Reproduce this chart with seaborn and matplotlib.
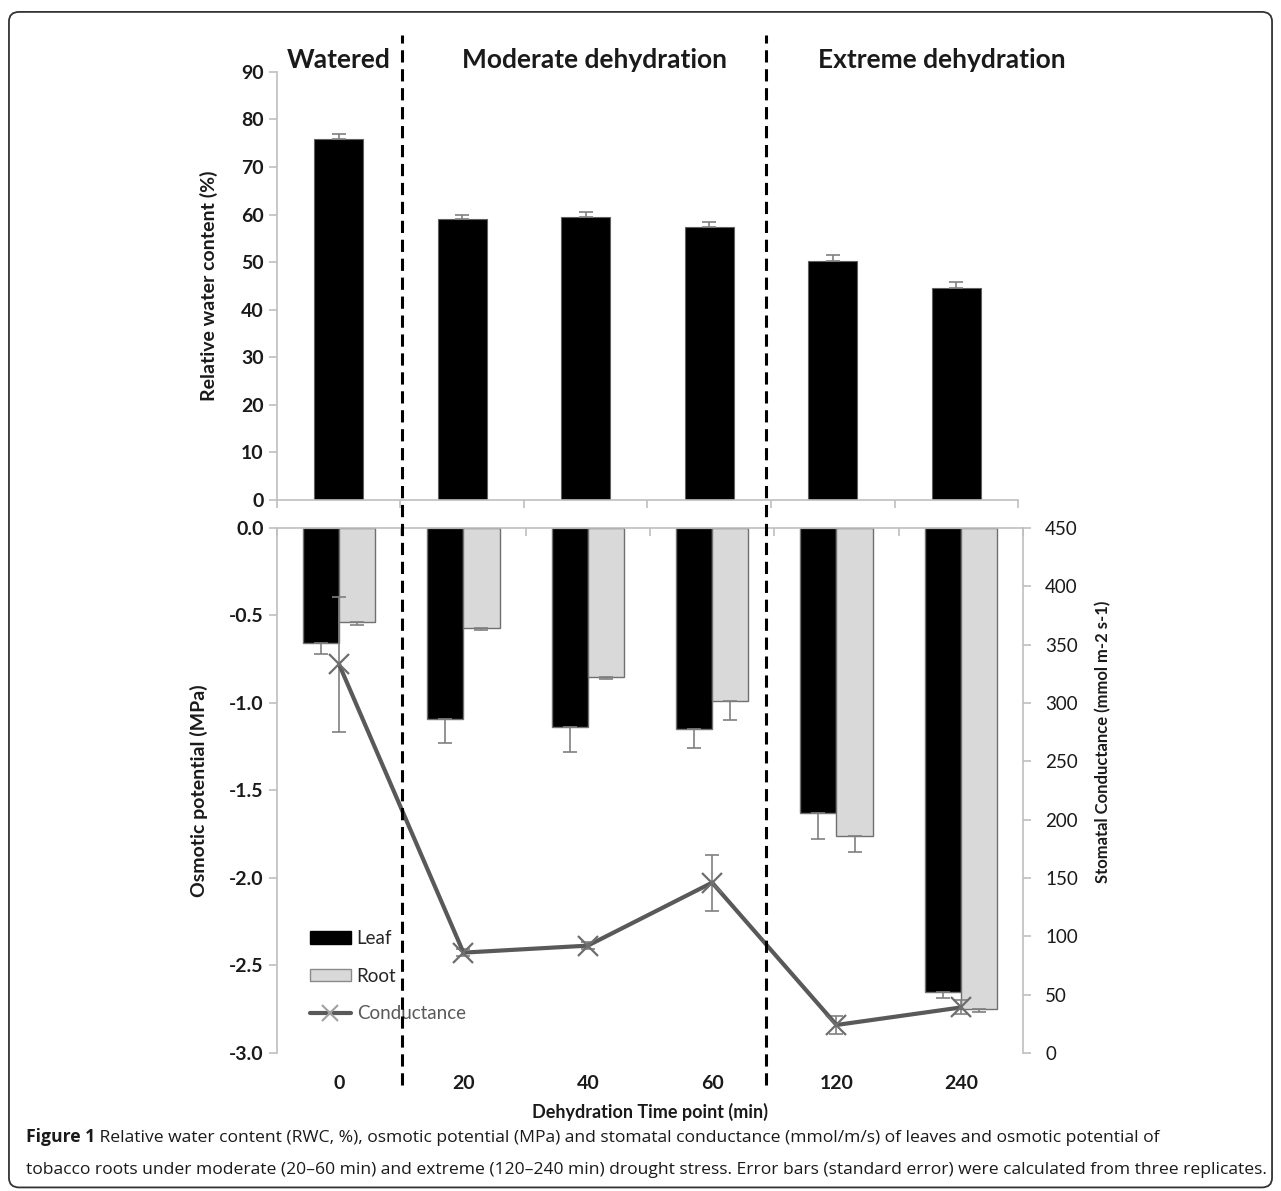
import numpy as np
import pandas as pd
import seaborn as sns
import matplotlib.pyplot as plt
import matplotlib.transforms as mtransforms
from matplotlib.patches import Patch, FancyBboxPatch
from matplotlib.lines import Line2D

# values
times = ["0", "20", "40", "60", "120", "240"]
rwc = [76.0, 59.0, 59.5, 57.4, 50.2, 44.5]
rwc_err = [0.9, 1.0, 1.1, 1.0, 1.4, 1.3]
leaf_op = [-0.66, -1.09, -1.14, -1.15, -1.63, -2.65]
leaf_op_err = [0.06, 0.14, 0.14, 0.11, 0.15, 0.035]
root_op = [-0.54, -0.57, -0.85, -0.99, -1.76, -2.75]
root_op_err = [0.015, 0.012, 0.015, 0.11, 0.09, 0.015]
conductance = [333, 86, 92, 146, 24, 39]
conductance_err = [58, 3, 3, 24, 8, 6]
phases = ["Watered", "Moderate dehydration", "Extreme dehydration"]

sns.set_theme(style="white")
plt.rcParams["font.family"] = ["Lato", "DejaVu Sans"]
plt.rcParams["axes.unicode_minus"] = False

GRID = "#bfbfbf"
TXT = "#1a1a1a"
ROOT = "#d9d9d9"
LINE = "#595959"

fig = plt.figure(figsize=(12.81, 11.91), dpi=100)
ax1 = fig.add_axes([0.2162, 0.5802, 0.5785, 0.3594])
ax2 = fig.add_axes([0.2162, 0.1159, 0.5824, 0.4408])

pos = np.arange(len(times))

# top panel: relative water content
df_rwc = pd.DataFrame({"time": times, "rwc": rwc})
sns.barplot(data=df_rwc, x="time", y="rwc", color="black", width=0.4,
            saturation=1, errorbar=None, edgecolor="#606060", linewidth=0.8, ax=ax1)
ax1.errorbar(pos, rwc, yerr=[np.zeros(6), rwc_err], fmt="none", ecolor="#808080",
             elinewidth=1.2, capsize=5, capthick=1.2, zorder=5)
ax1.set_xlim(-0.5, 5.5)
ax1.set_ylim(0, 90)
ax1.set_yticks(np.arange(0, 91, 10))
ax1.set_xticks(np.arange(-0.5, 6, 1))
ax1.set_xticklabels([""] * 7)
ax1.set_xlabel("")
ax1.set_ylabel("Relative water content (%)", fontsize=14, fontweight="bold", color=TXT)
ax1.yaxis.set_label_coords(-0.08, 0.5)
for s in ["top", "right"]:
    ax1.spines[s].set_visible(False)
for s in ["left", "bottom"]:
    ax1.spines[s].set_color(GRID)
    ax1.spines[s].set_linewidth(1.2)
ax1.tick_params(axis="both", direction="out", length=6, color=GRID, width=1.2,
                labelsize=14, labelcolor=TXT, left=True, bottom=True)
for lbl in ax1.get_yticklabels():
    lbl.set_fontweight("bold")

# phase titles
for x, name in zip([0, 2.07, 4.88], phases):
    ax1.text(x, 92.6, name, ha="center", va="center", fontsize=19,
             fontweight="bold", color=TXT, clip_on=False)

# bottom panel: osmotic potential (leaf / root)
df_op = pd.DataFrame({
    "time": times * 2,
    "op": leaf_op + root_op,
    "tissue": ["Leaf"] * 6 + ["Root"] * 6,
})
sns.barplot(data=df_op, x="time", y="op", hue="tissue", hue_order=["Leaf", "Root"],
            palette={"Leaf": "black", "Root": ROOT}, width=0.58, saturation=1,
            errorbar=None, edgecolor="#707070", linewidth=1.0, legend=False, ax=ax2)
ax2.errorbar(pos - 0.145, leaf_op, yerr=[leaf_op_err, np.zeros(6)], fmt="none",
             ecolor="#808080", elinewidth=1.2, capsize=5, capthick=1.2, zorder=5)
ax2.errorbar(pos + 0.145, root_op, yerr=[root_op_err, np.zeros(6)], fmt="none",
             ecolor="#808080", elinewidth=1.2, capsize=5, capthick=1.2, zorder=5)
ax2.set_xlim(-0.5, 5.5)
ax2.set_ylim(-3, 0)
ax2.set_yticks(np.arange(-3, 0.01, 0.5))
ax2.set_yticklabels([f"{v:.1f}" for v in np.arange(-3, 0.01, 0.5)])
ax2.set_xticks(pos)
ax2.set_xticklabels(times)
ax2.set_xticks(np.arange(-0.5, 6, 1), minor=True)
ax2.tick_params(axis="x", which="major", length=0, pad=16, labelsize=14, labelcolor=TXT)
ax2.tick_params(axis="x", which="minor", top=True, bottom=False, direction="in",
                length=6, color=GRID, width=1.2)
ax2.tick_params(axis="y", direction="out", length=6, color=GRID, width=1.2,
                labelsize=14, labelcolor=TXT, left=True)
for lbl in ax2.get_yticklabels() + ax2.get_xticklabels():
    lbl.set_fontweight("bold")
ax2.set_xlabel("Dehydration Time point (min)", fontsize=13, fontweight="bold",
               color=TXT, labelpad=8)
ax2.set_ylabel("Osmotic potential (MPa)", fontsize=14, fontweight="bold", color=TXT)
ax2.yaxis.set_label_coords(-0.092, 0.5)
for s in ["bottom", "right"]:
    ax2.spines[s].set_visible(False)
for s in ["left", "top"]:
    ax2.spines[s].set_color(GRID)
    ax2.spines[s].set_linewidth(1.2)

# stomatal conductance on the right axis
ax3 = ax2.twinx()
sns.lineplot(x=pos, y=conductance, ax=ax3, color=LINE, linewidth=3,
             marker="x", markersize=14, markeredgewidth=1.6, markeredgecolor="#6e6e6e",
             zorder=6)
ax3.errorbar(pos, conductance, yerr=conductance_err, fmt="none", ecolor="#808080",
             elinewidth=1.2, capsize=5, capthick=1.2, zorder=5)
ax3.set_ylim(0, 450)
ax3.set_yticks(np.arange(0, 451, 50))
ax3.tick_params(axis="y", direction="out", length=6, color=GRID, width=1.2, pad=10,
                labelsize=13.5, labelcolor=TXT, right=True)
for s in ["top", "bottom", "left"]:
    ax3.spines[s].set_visible(False)
ax3.spines["right"].set_color(GRID)
ax3.spines["right"].set_linewidth(1.2)
ax3.set_ylabel("Stomatal Conductance (mmol m-2 s-1)", fontsize=12,
               fontweight="bold", color=TXT)
ax3.yaxis.set_label_coords(1.0965, 0.592)

handles = [
    Patch(facecolor="black", edgecolor="black"),
    Patch(facecolor=ROOT, edgecolor="#8a8a8a"),
    Line2D([], [], color=LINE, lw=3, marker="x", markersize=12,
           markeredgewidth=1.5, markeredgecolor="#a0a0a0"),
]
leg = ax3.legend(handles, ["Leaf", "Root", "Conductance"], loc="upper left",
                 bbox_to_anchor=(0.044, 0.234), frameon=False, borderpad=0,
                 borderaxespad=0, fontsize=13.5, handlelength=2.2, handleheight=0.65,
                 handletextpad=0.3, labelspacing=1.1)
leg.get_texts()[2].set_color(LINE)

# dashed separators between treatment phases
trans = mtransforms.blended_transform_factory(ax2.transData, fig.transFigure)
for xd in [0.505, 3.433]:
    fig.add_artist(Line2D([xd, xd], [0.089, 0.9706], transform=trans, color="black",
                          lw=2.2, dashes=(4, 2.2)))

# caption and frame
fig.add_artist(FancyBboxPatch((0.007, 0.003), 0.986, 0.987,
                              boxstyle="round,pad=0,rounding_size=0.008",
                              transform=fig.transFigure, fill=False,
                              ec="#333333", lw=1.3))
cap_font = ["Open Sans", "DejaVu Sans"]
t1 = fig.text(0.02, 0.041, "Figure 1", fontsize=12.6, fontweight="bold",
              family=cap_font, color=TXT, va="baseline")
ax1.annotate(" Relative water content (RWC, %), osmotic potential (MPa) and stomatal "
             "conductance (mmol/m/s) of leaves and osmotic potential of",
             xy=(1, 0), xycoords=t1, va="bottom", ha="left", fontsize=12.6,
             family=cap_font, color=TXT, annotation_clip=False)
fig.text(0.02, 0.014, "tobacco roots under moderate (20\u201360 min) and extreme "
         "(120\u2013240 min) drought stress. Error bars (standard error) were "
         "calculated from three replicates.", fontsize=12.6, family=cap_font,
         color=TXT, va="baseline")

fig.savefig("out.png", dpi=100)
